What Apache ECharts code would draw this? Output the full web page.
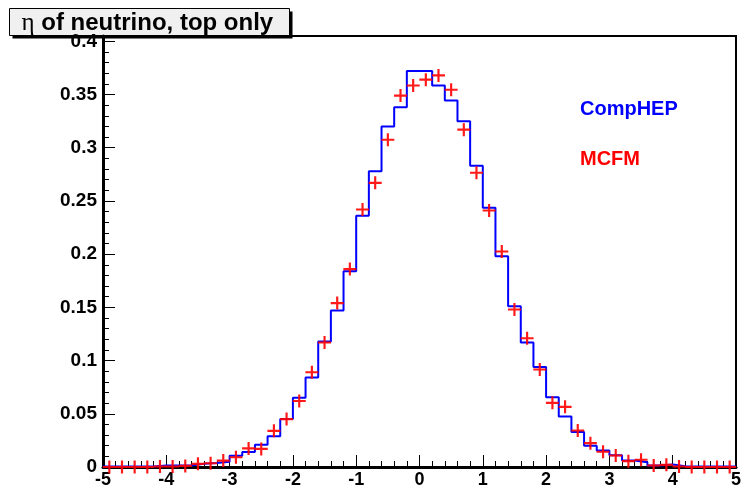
<!DOCTYPE html>
<html>
<head>
<meta charset="utf-8">
<script src="https://cdn.jsdelivr.net/npm/echarts@6/dist/echarts.min.js"></script>
<style>
  html, body { margin: 0; padding: 0; background: #fff; }
  #chart { width: 744px; height: 489px; }
</style>
</head>
<body>
<div id="chart"></div>
<script>
// bin edges of the eta histogram (50 bins of 0.2)
const binEdges = [
  -5.0, -4.8, -4.6, -4.4, -4.2, -4.0, -3.8, -3.6, -3.4, -3.2,
  -3.0, -2.8, -2.6, -2.4, -2.2, -2.0, -1.8, -1.6, -1.4, -1.2,
  -1.0, -0.8, -0.6, -0.4, -0.2, 0.0, 0.2, 0.4, 0.6, 0.8,
  1.0, 1.2, 1.4, 1.6, 1.8, 2.0, 2.2, 2.4, 2.6, 2.8,
  3.0, 3.2, 3.4, 3.6, 3.8, 4.0, 4.2, 4.4, 4.6, 4.8, 5.0
];

// CompHEP, one value per bin
const compHep = [
  0.0005, 0.0005, 0.0005, 0.0005, 0.0015, 0.0015, 0.0015, 0.003, 0.0037, 0.005,
  0.0105, 0.014, 0.021, 0.029, 0.045, 0.065, 0.084, 0.118, 0.147, 0.184,
  0.236, 0.278, 0.320, 0.338, 0.372, 0.372, 0.3585, 0.3445, 0.325, 0.283,
  0.2436, 0.198, 0.151, 0.117, 0.094, 0.0656, 0.0475, 0.033, 0.020, 0.0155,
  0.011, 0.006, 0.0045, 0.0014, 0.0023, 0.0008, 0.0005, 0.0005, 0.0005, 0.0005
];

// MCFM points at bin centres
const binCenters = [
  -4.9, -4.7, -4.5, -4.3, -4.1, -3.9, -3.7, -3.5, -3.3, -3.1,
  -2.9, -2.7, -2.5, -2.3, -2.1, -1.9, -1.7, -1.5, -1.3, -1.1,
  -0.9, -0.7, -0.5, -0.3, -0.1, 0.1, 0.3, 0.5, 0.7, 0.9,
  1.1, 1.3, 1.5, 1.7, 1.9, 2.1, 2.3, 2.5, 2.7, 2.9,
  3.1, 3.3, 3.5, 3.7, 3.9, 4.1, 4.3, 4.5, 4.7, 4.9
];
const mcfm = [
  0, 0, 0, 0, 0.0005, 0.0005, 0.001, 0.003, 0.0035, 0.006,
  0.0092, 0.0175, 0.017, 0.034, 0.045, 0.062, 0.089, 0.117, 0.154, 0.186,
  0.242, 0.267, 0.3075, 0.349, 0.3585, 0.364, 0.368, 0.3545, 0.317, 0.2765,
  0.241, 0.2025, 0.148, 0.121, 0.0916, 0.0603, 0.0565, 0.0343, 0.0224, 0.0143,
  0.0108, 0.0055, 0.0068, 0.0014, 0.002, 0.0005, 0, 0, 0, 0
];

const titleText = "of neutrino, top only";
const font = "Liberation Sans, Arial, Helvetica, sans-serif";

const chart = echarts.init(document.getElementById("chart"));

const stepData = binEdges.map((e, i) => [e, compHep[Math.min(i, compHep.length - 1)]]);
const crossData = binCenters.map((c, i) => [c, mcfm[i]]);

chart.setOption({
  animation: false,
  backgroundColor: "#fff",
  grid: {
    left: 103, right: 3, top: 36, bottom: 22,
    show: true, borderColor: "#000", borderWidth: 2
  },
  xAxis: {
    type: "value",
    min: -5, max: 5, interval: 1,
    axisLine: { onZero: false, lineStyle: { color: "#000", width: 3 } },
    axisTick: { inside: true, length: 12, lineStyle: { color: "#000", width: 1 } },
    minorTick: { show: true, splitNumber: 5, length: 6, lineStyle: { color: "#000", width: 1 } },
    splitLine: { show: false },
    axisLabel: { color: "#000", fontFamily: font, fontWeight: "bold", fontSize: 18, margin: 4 }
  },
  yAxis: {
    type: "value",
    min: 0, max: 0.405, interval: 0.05,
    axisLine: { show: true, onZero: false, lineStyle: { color: "#000", width: 3 } },
    axisTick: { inside: true, length: 12, lineStyle: { color: "#000", width: 1 } },
    minorTick: { show: true, splitNumber: 5, length: 6, lineStyle: { color: "#000", width: 1 } },
    splitLine: { show: false },
    axisLabel: {
      color: "#000", fontFamily: font, fontWeight: "bold", fontSize: 19, margin: 6,
      formatter: v => {
        const k = v / 0.05;
        return Math.abs(k - Math.round(k)) < 1e-6 ? String(+v.toFixed(2)) : "";
      }
    }
  },
  series: [
    {
      name: "CompHEP",
      type: "line",
      step: "end",
      data: stepData,
      symbol: "none",
      lineStyle: { color: "#0000ff", width: 2 },
      z: 3
    },
    {
      name: "MCFM",
      type: "scatter",
      data: crossData,
      symbol: "path://M5,0H7V5H12V7H7V12H5V7H0V5H5Z",
      symbolSize: 13,
      itemStyle: { color: "#ff0000", opacity: 0.9 },
      z: 4
    }
  ],
  graphic: [
    {
      type: "group", left: 9, top: 8, z: 100,
      children: [
        { type: "rect", shape: { x: 3, y: 3, width: 280, height: 27 }, style: { fill: "#000" } },
        { type: "rect", shape: { x: 0, y: 0, width: 280, height: 27 }, style: { fill: "#f0f0f0", stroke: "#000", lineWidth: 1 } },
        {
          type: "text", x: 12, y: 15,
          style: {
            text: "{e|η} " + titleText,
            fill: "#000",
            font: "bold 24px " + font,
            verticalAlign: "middle",
            rich: { e: { fontFamily: "Liberation Serif, DejaVu Serif, serif", fontWeight: "normal", fontSize: 25 } }
          }
        }
      ]
    },
    {
      type: "text", left: 580, top: 99, z: 100,
      style: { text: "CompHEP", fill: "#0000ff", font: "bold 20px " + font }
    },
    {
      type: "text", left: 580, top: 149, z: 100,
      style: { text: "MCFM", fill: "#ff0000", font: "bold 20px " + font }
    }
  ]
});
</script>
</body>
</html>
